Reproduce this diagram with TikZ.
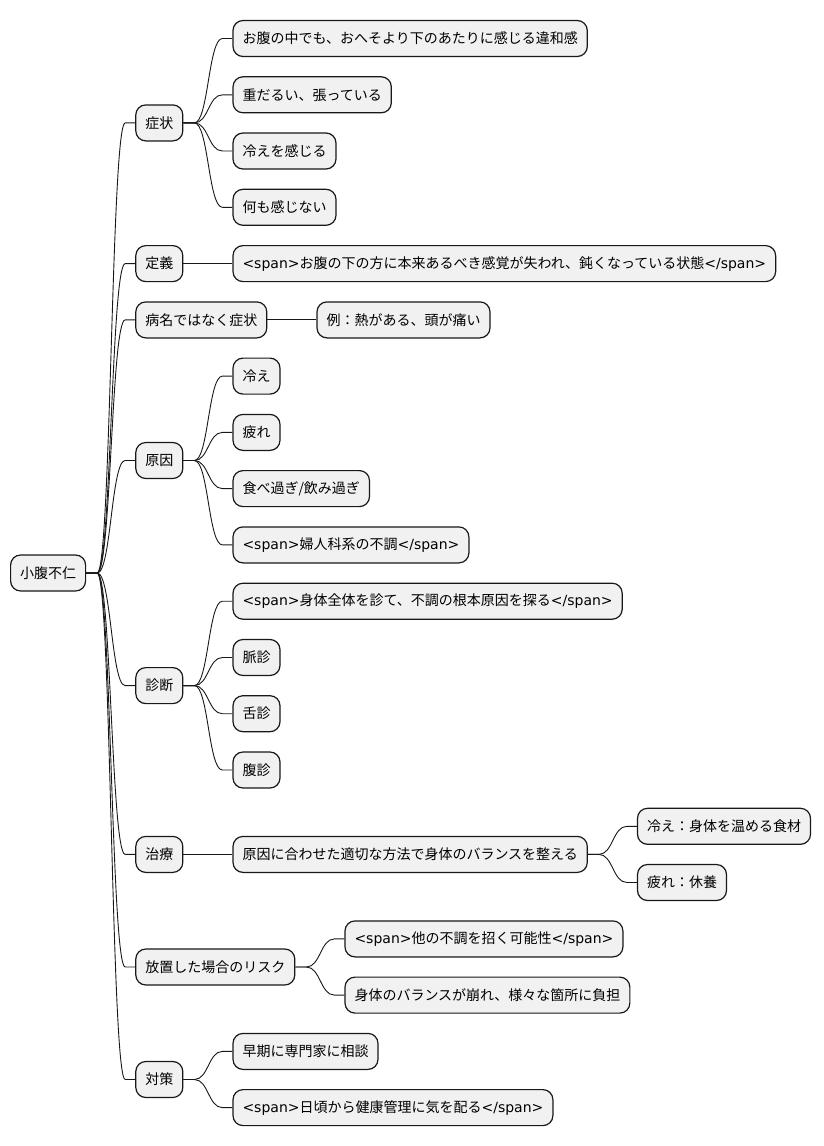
\documentclass[tikz,border=0pt]{standalone}
\usepackage{fontspec}
\setmainfont{Noto Sans CJK JP}
\newfontfamily\dejavu{DejaVu Sans}
\usepackage{xcolor}
\usepackage{tikz}
\usetikzlibrary{positioning}

\definecolor{boxfill}{HTML}{F1F1F1}
\definecolor{boxline}{HTML}{181818}
\newcommand{\tagged}[1]{{\dejavu <span>}#1{\dejavu </span>}}

\tikzset{
  topic/.style={draw=boxline, fill=boxfill, line width=1.2pt, rounded corners=10pt,
    minimum height=36pt, inner xsep=9.5pt, inner ysep=0pt, font=\fontsize{14}{16}\selectfont},
  branch/.style={to path={-- ++(11,0) .. controls +(14,0) and ([xshift=-24]\tikztotarget) .. ([xshift=-10]\tikztotarget) -- (\tikztotarget)}},
  link/.style={draw=boxline, line width=0.9pt}
}

\begin{document}
\begin{tikzpicture}[x=1pt,y=-1pt]
            \useasboundingbox (0,0) rectangle (824,1146);

            \node[topic, anchor=west] (root) at (10,573) {小腹不仁};

            % first level
            \node[topic, right=49pt of root, yshift=450.1pt] (sympt) {症状};
            \node[topic, right=49pt of root, yshift=309.4pt] (defn) {定義};
            \node[topic, right=49pt of root, yshift=253.1pt] (notdis) {病名ではなく症状};
            \node[topic, right=49pt of root, yshift=112.5pt] (cause) {原因};
            \node[topic, right=49pt of root, yshift=-112.6pt] (diag) {診断};
            \node[topic, right=49pt of root, yshift=-281.4pt] (treat) {治療};
            \node[topic, right=49pt of root, yshift=-394pt] (risk) {放置した場合のリスク};
            \node[topic, right=49pt of root, yshift=-506.5pt] (measure) {対策};

            % second level
            \node[topic, right=49pt of sympt, yshift=84.4pt] (sympt1) {お腹の中でも、おへそより下のあたりに感じる違和感};
            \node[topic, right=49pt of sympt, yshift=28.1pt] (sympt2) {重だるい、張っている};
            \node[topic, right=49pt of sympt, yshift=-28.1pt] (sympt3) {冷えを感じる};
            \node[topic, right=49pt of sympt, yshift=-84.4pt] (sympt4) {何も感じない};

            \node[topic, right=49pt of defn] (defn1) {\tagged{お腹の下の方に本来あるべき感覚が失われ、鈍くなっている状態}};
            \node[topic, right=49pt of notdis] (notdis1) {例：熱がある、頭が痛い};

            \node[topic, right=49pt of cause, yshift=84.4pt] (cause1) {冷え};
            \node[topic, right=49pt of cause, yshift=28.1pt] (cause2) {疲れ};
            \node[topic, right=49pt of cause, yshift=-28.1pt] (cause3) {食べ過ぎ/飲み過ぎ};
            \node[topic, right=49pt of cause, yshift=-84.4pt] (cause4) {\tagged{婦人科系の不調}};

            \node[topic, right=49pt of diag, yshift=84.4pt] (diag1) {\tagged{身体全体を診て、不調の根本原因を探る}};
            \node[topic, right=49pt of diag, yshift=28.1pt] (diag2) {脈診};
            \node[topic, right=49pt of diag, yshift=-28.1pt] (diag3) {舌診};
            \node[topic, right=49pt of diag, yshift=-84.4pt] (diag4) {腹診};

            \node[topic, right=49pt of treat] (treat1) {原因に合わせた適切な方法で身体のバランスを整える};
            \node[topic, right=49pt of treat1, yshift=28.1pt] (treat11) {冷え：身体を温める食材};
            \node[topic, right=49pt of treat1, yshift=-28.1pt] (treat12) {疲れ：休養};

            \node[topic, right=49pt of risk, yshift=28.1pt] (risk1) {\tagged{他の不調を招く可能性}};
            \node[topic, right=49pt of risk, yshift=-28.1pt] (risk2) {身体のバランスが崩れ、様々な箇所に負担};

            \node[topic, right=49pt of measure, yshift=28.1pt] (measure1) {早期に専門家に相談};
            \node[topic, right=49pt of measure, yshift=-28.1pt] (measure2) {\tagged{日頃から健康管理に気を配る}};

            % connectors
            \draw[link] (root.east) to[branch] (sympt.west);
            \draw[link] (root.east) to[branch] (defn.west);
            \draw[link] (root.east) to[branch] (notdis.west);
            \draw[link] (root.east) to[branch] (cause.west);
            \draw[link] (root.east) to[branch] (diag.west);
            \draw[link] (root.east) to[branch] (treat.west);
            \draw[link] (root.east) to[branch] (risk.west);
            \draw[link] (root.east) to[branch] (measure.west);

            \draw[link] (sympt.east) to[branch] (sympt1.west);
            \draw[link] (sympt.east) to[branch] (sympt2.west);
            \draw[link] (sympt.east) to[branch] (sympt3.west);
            \draw[link] (sympt.east) to[branch] (sympt4.west);
            \draw[link] (defn.east) to[branch] (defn1.west);
            \draw[link] (notdis.east) to[branch] (notdis1.west);
            \draw[link] (cause.east) to[branch] (cause1.west);
            \draw[link] (cause.east) to[branch] (cause2.west);
            \draw[link] (cause.east) to[branch] (cause3.west);
            \draw[link] (cause.east) to[branch] (cause4.west);
            \draw[link] (diag.east) to[branch] (diag1.west);
            \draw[link] (diag.east) to[branch] (diag2.west);
            \draw[link] (diag.east) to[branch] (diag3.west);
            \draw[link] (diag.east) to[branch] (diag4.west);
            \draw[link] (treat.east) to[branch] (treat1.west);
            \draw[link] (treat1.east) to[branch] (treat11.west);
            \draw[link] (treat1.east) to[branch] (treat12.west);
            \draw[link] (risk.east) to[branch] (risk1.west);
            \draw[link] (risk.east) to[branch] (risk2.west);
            \draw[link] (measure.east) to[branch] (measure1.west);
            \draw[link] (measure.east) to[branch] (measure2.west);
\end{tikzpicture}
\end{document}
